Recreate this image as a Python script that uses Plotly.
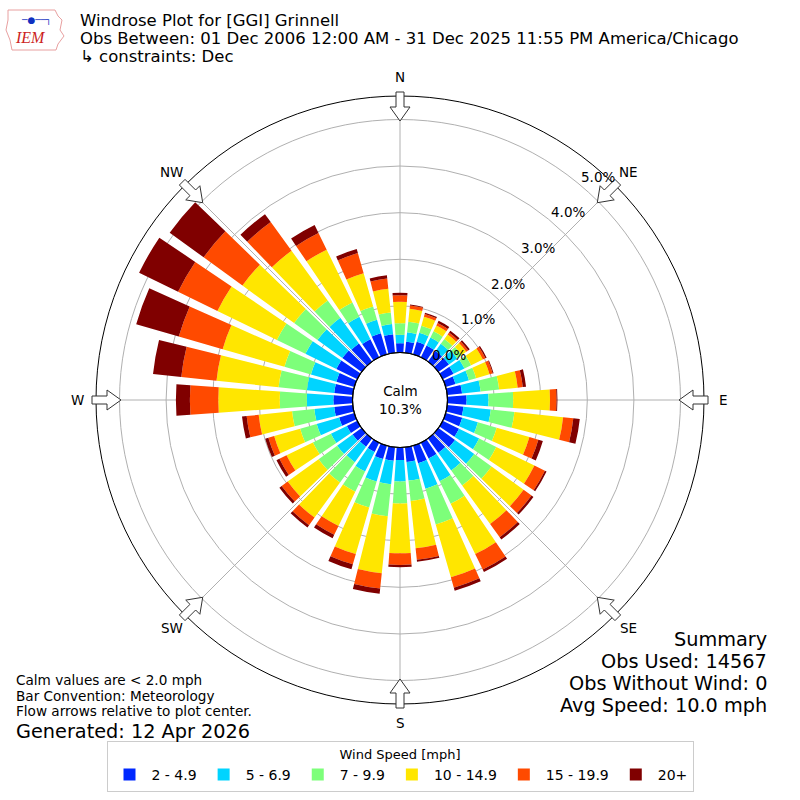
import math
import plotly.graph_objects as go

# direction bins (deg, meteorological, clockwise from north)
directions = [0, 10, 20, 30, 40, 50, 60, 70, 80, 90, 100, 110, 120, 130, 140, 150, 160, 170,
              180, 190, 200, 210, 220, 230, 240, 250, 260, 270, 280, 290, 300, 310, 320, 330, 340, 350]

# percent of obs per speed bin
spd_2_5 = [0.20, 0.24, 0.28, 0.28, 0.28, 0.28, 0.26, 0.22, 0.32, 0.41, 0.35, 0.37, 0.39, 0.44, 0.38, 0.38, 0.39, 0.32,
           0.27, 0.29, 0.30, 0.22, 0.22, 0.24, 0.25, 0.34, 0.40, 0.41, 0.40, 0.40, 0.50, 0.51, 0.48, 0.43, 0.47, 0.40]
spd_5_7 = [0.18, 0.20, 0.20, 0.19, 0.19, 0.22, 0.26, 0.30, 0.40, 0.47, 0.59, 0.35, 0.48, 0.51, 0.47, 0.54, 0.57, 0.40,
           0.46, 0.51, 0.50, 0.47, 0.41, 0.41, 0.38, 0.50, 0.43, 0.57, 0.59, 0.57, 0.74, 0.66, 0.68, 0.54, 0.30, 0.22]
spd_7_10 = [0.25, 0.23, 0.16, 0.15, 0.13, 0.12, 0.16, 0.16, 0.40, 0.53, 0.51, 0.42, 0.41, 0.46, 0.40, 0.54, 0.80, 0.44,
            0.47, 0.69, 0.58, 0.48, 0.54, 0.49, 0.43, 0.37, 0.48, 0.58, 0.61, 0.59, 0.68, 0.62, 0.46, 0.34, 0.30, 0.25]
spd_10_15 = [0.46, 0.28, 0.20, 0.14, 0.12, 0.12, 0.28, 0.30, 0.40, 0.79, 1.05, 0.73, 0.91, 0.85, 1.02, 1.20, 1.18, 1.02,
             1.07, 1.23, 1.04, 0.82, 0.93, 0.82, 0.63, 0.58, 0.72, 1.32, 1.34, 1.38, 1.42, 1.37, 1.32, 1.26, 0.74, 0.51]
spd_15_20 = [0.14, 0.07, 0.06, 0.06, 0.05, 0.05, 0.06, 0.07, 0.11, 0.14, 0.22, 0.20, 0.25, 0.21, 0.35, 0.37, 0.23, 0.25,
             0.25, 0.33, 0.23, 0.21, 0.20, 0.16, 0.17, 0.13, 0.26, 0.61, 0.76, 0.98, 0.94, 1.03, 0.76, 0.40, 0.45, 0.22]
spd_20 = [0.05, 0.02, 0.03, 0.05, 0.05, 0.04, 0.03, 0.02, 0.07, 0.02, 0.14, 0.10, 0.04, 0.05, 0.06, 0.06, 0.07, 0.04,
          0.05, 0.11, 0.11, 0.08, 0.06, 0.06, 0.07, 0.07, 0.10, 0.30, 0.61, 0.95, 0.93, 0.90, 0.21, 0.19, 0.09, 0.07]

speed_labels = ["2 - 4.9", "5 - 6.9", "7 - 9.9", "10 - 14.9", "15 - 19.9", "20+"]
speed_colors = ["#0028ff", "#00d4ff", "#7dff7a", "#ffe600", "#ff4a00", "#800000"]
compass_vals = [0, 45, 90, 135, 180, 225, 270, 315]
compass_text = ["N", "NE", "E", "SE", "S", "SW", "W", "NW"]
radial_ticks = [0, 1, 2, 3, 4, 5]

calm_pct = 10.3
summary_lines = ["Summary", "Obs Used: 14567", "Obs Without Wind: 0", "Avg Speed: 10.0 mph"]
title_lines = ["Windrose Plot for [GGI] Grinnell",
               "Obs Between: 01 Dec 2006 12:00 AM - 31 Dec 2025 11:55 PM America/Chicago",
               "\u21b3 constraints: Dec"]
note_lines = ["Calm values are < 2.0 mph", "Bar Convention: Meteorology",
              "Flow arrows relative to plot center."]

W = H = 800
CX, CY, R = 400, 400, 304
HOLE = 47.5
PER_PCT = 46.6


def px(x, y):
    return x / W, 1 - y / H


def polar_px(r, ang):
    t = math.radians(ang)
    return CX + r * math.sin(t), CY - r * math.cos(t)


fig = go.Figure()
for vals, lab, col in zip([spd_2_5, spd_5_7, spd_7_10, spd_10_15, spd_15_20, spd_20],
                          speed_labels, speed_colors):
    fig.add_trace(go.Barpolar(r=vals, theta=directions, name=lab, width=8,
                              marker=dict(color=col, line=dict(width=0))))

# hollow flow arrows at the compass points
shapes = []
for a in compass_vals:
    t = math.radians(a)
    d = (math.sin(t), -math.cos(t))
    p = (math.cos(t), math.sin(t))
    pts = [(0, -4), (15, -4), (15, -10), (29, 0), (15, 10), (15, 4), (0, 4)]
    path = ""
    for i, (u, v) in enumerate(pts):
        rr = 308 - u
        x = CX + rr * d[0] + v * p[0]
        y = CY + rr * d[1] + v * p[1]
        xp, yp = px(x, y)
        path += ("M" if i == 0 else "L") + f"{xp:.5f},{yp:.5f} "
    shapes.append(dict(type="path", path=path + "Z", xref="paper", yref="paper",
                       fillcolor="white", line=dict(color="#333333", width=1), layer="above"))

x0, y0 = px(CX - HOLE, CY + HOLE)
x1, y1 = px(CX + HOLE, CY - HOLE)
shapes.append(dict(type="circle", xref="paper", yref="paper", x0=x0, y0=y0, x1=x1, y1=y1,
                   line=dict(color="black", width=1.2), layer="above"))

# rough IEM logo outline
logo = [(8, 10), (55, 10), (58, 16), (62, 20), (60, 30), (64, 36), (58, 44), (56, 50), (12, 50), (10, 40), (6, 30), (8, 20)]
lp = ""
for i, (x, y) in enumerate(logo):
    xp, yp = px(x, y)
    lp += ("M" if i == 0 else "L") + f"{xp:.5f},{yp:.5f} "
shapes.append(dict(type="path", path=lp + "Z", xref="paper", yref="paper",
                   line=dict(color="#e8a0a0", width=1)))

ann = []
for i, t in enumerate(title_lines):
    xp, yp = px(78, 20 + i * 18.3)
    ann.append(dict(text=t, x=xp, y=yp, xanchor="left", yanchor="middle", showarrow=False,
                    font=dict(size=16.5, color="black")))
for i, t in enumerate(note_lines):
    xp, yp = px(14, 680 + i * 15.6)
    ann.append(dict(text=t, x=xp, y=yp, xanchor="left", yanchor="middle", showarrow=False,
                    font=dict(size=13.6, color="black")))
xp, yp = px(14, 731)
ann.append(dict(text="Generated: 12 Apr 2026", x=xp, y=yp, xanchor="left", yanchor="middle",
                showarrow=False, font=dict(size=19.3, color="black")))
for i, t in enumerate(summary_lines):
    xp, yp = px(769, 639 + i * 22)
    ann.append(dict(text=t, x=xp, y=yp, xanchor="right", yanchor="middle", showarrow=False,
                    font=dict(size=19.3, color="black")))
ann.append(dict(text=f"Calm<br>{calm_pct:.1f}%", x=0.5, y=0.5, xanchor="center", yanchor="middle",
                showarrow=False, font=dict(size=13.5, color="black")))

# compass labels just outside the rim
for a, t in zip(compass_vals, compass_text):
    xp, yp = px(*polar_px(323, a))
    ann.append(dict(text=t, x=xp, y=yp, xanchor="center", yanchor="middle", showarrow=False,
                    font=dict(size=13.5, color="black")))

# radial labels near the NE spoke, matplotlib style (40 deg + small offset)
for v in radial_ticks:
    lx, ly = polar_px(HOLE + v * PER_PCT, 40)
    xp, yp = px(lx + 18, ly - 8.5)
    ann.append(dict(text=f"{v:.1f}%", x=xp, y=yp, xanchor="center", yanchor="middle",
                    showarrow=False, font=dict(size=13.5, color="black")))

xp, yp = px(30, 38)
ann.append(dict(text="<i>IEM</i>", x=xp, y=yp, xanchor="center", yanchor="middle", showarrow=False,
                font=dict(size=16, color="#cc2222", family="Liberation Serif")))
xp, yp = px(36, 21)
ann.append(dict(text="\u2500\u25cf\u2500\u2500\u2510", x=xp, y=yp, xanchor="center", yanchor="middle",
                showarrow=False, font=dict(size=9, color="#1030c0")))

fig.update_layout(
    width=W, height=H,
    margin=dict(l=0, r=0, t=0, b=0),
    paper_bgcolor="white",
    font=dict(family="DejaVu Sans", size=13, color="black"),
    polar=dict(
        domain=dict(x=[0.12, 0.88], y=[0.12, 0.88]),
        bgcolor="white",
        hole=HOLE / R,
        barmode="stack",
        angularaxis=dict(rotation=90, direction="clockwise", tickmode="array",
                         tickvals=compass_vals, showticklabels=False, ticks="",
                         showline=True, linecolor="black", linewidth=1,
                         showgrid=True, gridcolor="#b0b0b0", gridwidth=1),
        radialaxis=dict(range=[0, (R - HOLE) / PER_PCT], angle=45,
                        tickmode="array", tickvals=radial_ticks, showticklabels=False,
                        showline=False, ticks="", showgrid=True,
                        gridcolor="#b0b0b0", gridwidth=1),
    ),
    legend=dict(orientation="h", x=0.5, xanchor="center", y=1 - 741 / H, yanchor="top",
                title=dict(text="Wind Speed [mph]", side="top center", font=dict(size=13)),
                bordercolor="#cccccc", borderwidth=1, font=dict(size=14),
                itemsizing="constant", itemwidth=34),
    shapes=shapes,
    annotations=ann,
)

fig.write_html("out.html", config={"displayModeBar": False},
               post_script="document.body.style.margin='0';")
